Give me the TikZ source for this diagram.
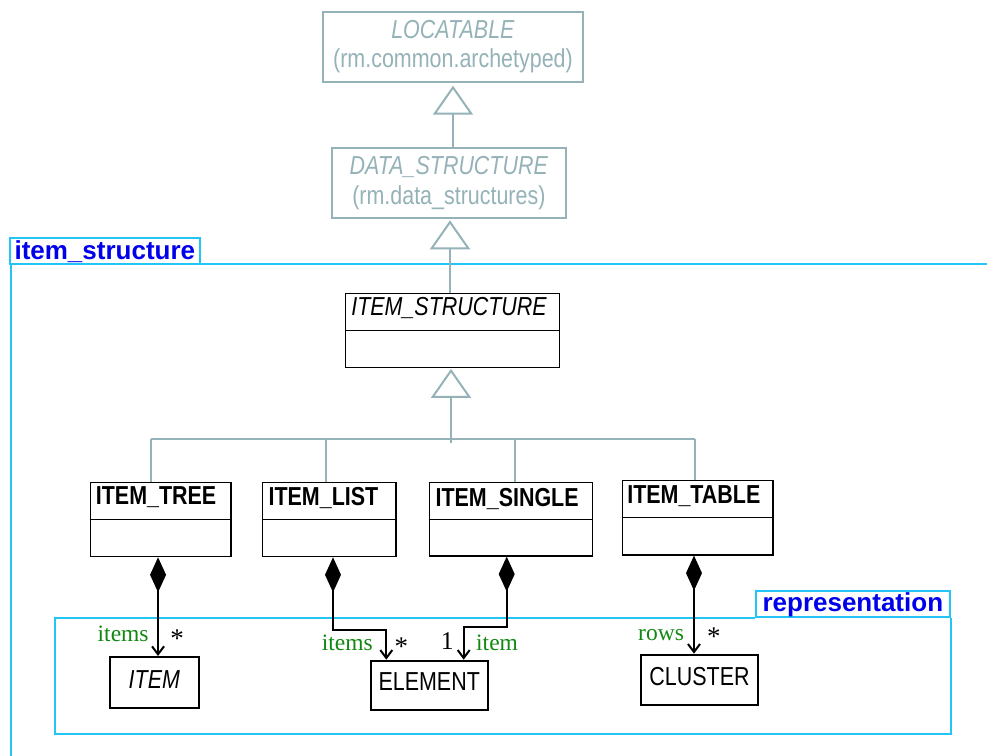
\documentclass[tikz,border=0pt]{standalone}
\usepackage{fontspec}
\setmainfont{Liberation Serif}
\newfontfamily\clsfont[FakeStretch=0.825]{Liberation Sans}
\newfontfamily\pkgfont{Liberation Sans}
\usetikzlibrary{arrows.meta,calc}
\definecolor{umlgray}{RGB}{148,178,183}
\definecolor{pkgcyan}{RGB}{34,197,245}
\definecolor{pkgblue}{RGB}{0,0,235}
\definecolor{rolegreen}{RGB}{17,136,17}
\begin{document}
\begin{tikzpicture}[x=1pt,y=-1pt,
  clsbox/.style={draw=black, line width=1.2pt, inner sep=0pt},
  divline/.style={draw=black, line width=1.2pt},
  grbox/.style={draw=umlgray, line width=2pt, inner sep=0pt, text=umlgray, align=center,
    font=\clsfont\fontsize{26}{29.3}\selectfont},
  elbox/.style={draw=black, line width=2pt, inner sep=0pt,
    font=\clsfont\fontsize{26}{28}\selectfont, text height=18.6pt, text depth=7.4pt},
  cname/.style={font=\clsfont\fontsize{26}{28}\selectfont, anchor=base west, inner sep=0pt},
  genline/.style={draw=umlgray, line width=2pt},
  gen/.style={genline, -{Triangle[open, length=29pt, width=40pt]}},
  comp/.style={draw=black, line width=2pt,
    {Diamond[length=35pt,width=16pt]}-{Straight Barb[length=8pt,width=12pt]}},
  role/.style={text=rolegreen, font=\fontsize{23.5}{26}\selectfont, anchor=base west, inner sep=0pt},
  mult/.style={text=black, font=\fontsize{27}{30}\selectfont, anchor=base, inner sep=0pt},
  pkgline/.style={draw=pkgcyan, line width=2pt},
  pkgtab/.style={pkgline, text=pkgblue, font=\pkgfont\bfseries\fontsize{26}{28}\selectfont,
    inner sep=0pt, minimum height=26pt, text height=19pt, text depth=3pt},
]
\useasboundingbox (0,0) rectangle (987,755);

% packages
\node[pkgtab, minimum width=190.3pt] (pis) at (104.85,251.15) {item\_structure};
\coordinate (pisR) at (995,264);
\coordinate (pisB) at (10.5,765);
\draw[pkgline] (pisB) |- (pisR);

\node[pkgtab, minimum width=194.3pt] (prep) at (852.85,603.7) {representation};
\coordinate (repBL) at (55,734);
\draw[pkgline] (prep.south east) |- (repBL) |- (prep.south west);

% grey ancestor classes
\node[grbox, minimum width=259.4pt, minimum height=69.7pt] (loc) at (453,46.85)
  {\textit{LOCATABLE}\\(rm.common.archetyped)};
\node[grbox, minimum width=234.3pt, minimum height=70.6pt] (ds) at (448.85,183)
  {\textit{DATA\_STRUCTURE}\\(rm.data\_structures)};

% ITEM_STRUCTURE
\node[clsbox, minimum width=213.6pt, minimum height=74pt] (is) at (452.5,330.3) {};
\draw[divline] (is.west) -- (is.east);
\node[cname] (ist) at ([xshift=6pt, yshift=-22.4pt]is.north west) {\textit{ITEM\_STRUCTURE}};

% subclasses
\node[clsbox, minimum width=140.7pt, minimum height=74.4pt] (itree) at (160.65,519.5) {};
\draw[divline] (itree.west) -- (itree.east);
\node[cname] (itreet) at ([xshift=6pt, yshift=-22.5pt]itree.north west) {\textbf{ITEM\_TREE}};

\node[clsbox, minimum width=133.3pt, minimum height=74.4pt] (ilist) at (329.35,519.5) {};
\draw[divline] (ilist.west) -- (ilist.east);
\node[cname] (ilistt) at ([xshift=6.3pt, yshift=-23.4pt]ilist.north west) {\textbf{ITEM\_LIST}};

\node[clsbox, minimum width=163.4pt, minimum height=73.7pt] (isingle) at (511,519.15) {};
\draw[divline] (isingle.west) -- (isingle.east);
\node[cname] (isinglet) at ([xshift=6.7pt, yshift=-25pt]isingle.north west) {\textbf{ITEM\_SINGLE}};

\node[clsbox, minimum width=150.3pt, minimum height=74.3pt] (itable) at (697.85,517.85) {};
\draw[divline] (itable.west) -- (itable.east);
\node[cname] (itablet) at ([xshift=5pt, yshift=-23.3pt]itable.north west) {\textbf{ITEM\_TABLE}};

% representation classes
\node[elbox, minimum width=89.3pt, minimum height=51pt] (item) at (154.35,682.5) {\textit{ITEM}};
\node[elbox, minimum width=117pt, minimum height=49.3pt] (elem) at (429.2,685.35) {ELEMENT};
\node[elbox, minimum width=117pt, minimum height=50.3pt] (clus) at (699.5,679.85) {CLUSTER};

% generalisations
\draw[gen, shorten >=3pt] (ds.north -| loc.south) -- (loc.south);
\draw[gen, shorten >=1pt] ([xshift=-2.5pt]is.north) -- ([xshift=-2.5pt]is.north |- ds.south);

\coordinate (b1) at (151,439);
\coordinate (b2) at (325.7,439);
\coordinate (b3) at (515.3,439);
\coordinate (b4) at (695,439);
\coordinate (bc) at (451,443);
\draw[genline] (b1) -- (b4);
\draw[genline] (b1) -- (b1 |- itree.north);
\draw[genline] (b2) -- (b2 |- ilist.north);
\draw[genline] (b3) -- (b3 |- isingle.north);
\draw[genline] (b4) -- (b4 |- itable.north);
\draw[gen, shorten >=1pt] (bc) -- (bc |- is.south);

% compositions
\draw[comp] ([xshift=-2.6pt]itree.south) -- ([xshift=-2.6pt]itree.south |- item.north);
\draw[comp] ([xshift=3.65pt]ilist.south) -- ++(0,72.3) -| ([xshift=16.6pt]elem.north west);
\draw[comp] ([xshift=-4.3pt]isingle.south) -- ++(0,70) -| ([xshift=-25pt]elem.north east);
\draw[comp] ([xshift=-3.85pt]itable.south) -- ([xshift=-3.85pt]itable.south |- clus.north);

% role names and multiplicities
\node[role] (r1) at (97.5,641) {items};
\node[mult] (m1) at (177.2,647) {*};
\node[role] (r2) at (321.7,650.7) {items};
\node[mult] (m2) at (401.3,655) {*};
\node[mult, font=\fontsize{25.5}{28}\selectfont] (m3) at (447.2,649.3) {1};
\node[role] (r3) at (476,650) {item};
\node[role] (r4) at (638,640) {rows};
\node[mult] (m4) at (713.8,645) {*};
\end{tikzpicture}
\end{document}
